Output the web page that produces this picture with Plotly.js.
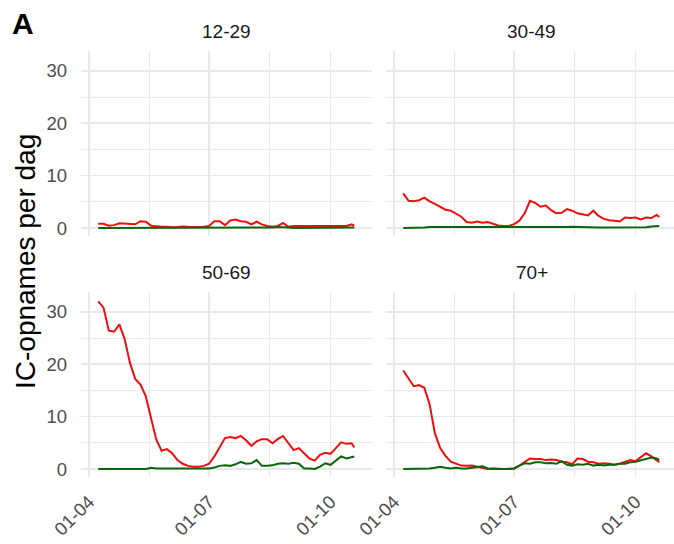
<!DOCTYPE html>
<html>
<head>
<meta charset="utf-8">
<script src="https://cdn.plot.ly/plotly-3.0.1.min.js"></script>
<style>html,body{margin:0;padding:0;background:#fff;}#chart{width:674px;height:544px;}</style>
</head>
<body>
<div id="chart"></div>
<script>
// ---- data ----
const dates = [
 "2020-04-08","2020-04-12","2020-04-16","2020-04-20","2020-04-24","2020-04-28",
 "2020-05-02","2020-05-06","2020-05-10","2020-05-14","2020-05-18","2020-05-22","2020-05-26","2020-05-30",
 "2020-06-03","2020-06-07","2020-06-11","2020-06-15","2020-06-19","2020-06-23","2020-06-27",
 "2020-07-01","2020-07-05","2020-07-09","2020-07-13","2020-07-17","2020-07-21","2020-07-25","2020-07-29",
 "2020-08-02","2020-08-06","2020-08-10","2020-08-14","2020-08-18","2020-08-22","2020-08-26","2020-08-30",
 "2020-09-03","2020-09-07","2020-09-11","2020-09-15","2020-09-19","2020-09-23","2020-09-27",
 "2020-10-01","2020-10-05","2020-10-09","2020-10-13","2020-10-17","2020-10-19"
];
const panels = ["12-29", "30-49", "50-69", "70+"];

const red_12_29 = [0.8,0.8,0.45,0.55,0.9,0.8,0.7,0.7,1.3,1.2,0.45,0.3,0.25,0.25,0.15,0.2,0.3,0.25,0.2,0.2,0.25,0.4,1.3,1.3,0.55,1.45,1.6,1.3,1.2,0.7,1.2,0.7,0.4,0.25,0.4,0.95,0.25,0.4,0.4,0.4,0.3,0.4,0.3,0.4,0.3,0.4,0.3,0.4,0.7,0.4];
const green_12_29 = [0,0,0,0,0,0,0,0,0,0,0.1,0.1,0.1,0.1,0.1,0,0,0,0,0,0,0,0,0,0,0,0,0,0,0,0,0,0,0.1,0.2,0.2,0.1,0,0,0,0,0,0,0,0,0,0,0,0.1,0.1];

const red_30_49 = [6.6,5.2,5.1,5.3,5.8,5.1,4.6,4.05,3.5,3.3,2.65,2.15,1.15,1.0,1.25,1.0,1.15,0.75,0.5,0.4,0.4,0.75,1.4,2.8,5.2,4.8,4.05,4.3,3.4,2.8,2.9,3.6,3.3,2.8,2.65,2.4,3.3,2.3,1.75,1.5,1.4,1.25,2.0,1.9,2.0,1.65,2.0,1.9,2.5,2.1];
const green_30_49 = [0,0,0,0,0.1,0.2,0.2,0.1,0.1,0.1,0.1,0.1,0.1,0.1,0.1,0.1,0.1,0.1,0.1,0.1,0.1,0.1,0.1,0.1,0.1,0.1,0.1,0.1,0.1,0.1,0.2,0.2,0.25,0.2,0.15,0.2,0.15,0.1,0.1,0.1,0.1,0.1,0.1,0.1,0.1,0.1,0.15,0.3,0.45,0.4];

const red_50_69 = [32.0,30.8,26.4,26.2,27.6,24.8,20.3,17.2,16.1,13.9,9.7,5.6,3.5,3.8,3.0,1.7,1.0,0.6,0.45,0.45,0.6,1.0,2.4,4.3,5.9,6.1,5.9,6.3,5.5,4.4,5.3,5.7,5.7,4.9,5.7,6.3,4.9,3.6,4.0,3.0,2.0,1.6,2.7,3.1,2.9,4.0,5.1,4.8,4.9,4.1];
const green_50_69 = [0,0,0,0,0,0,0,0,0,0,0.25,0.1,0.1,0.1,0.1,0.1,0.1,0.1,0.1,0.1,0.1,0.1,0.3,0.6,0.7,0.6,0.9,1.35,1.0,1.1,1.7,0.6,0.6,0.7,1.0,1.1,1.0,1.2,1.0,0.1,0.1,0,0.45,1.1,0.8,1.6,2.4,2.0,2.2,2.4];

const red_70 = [18.8,17.4,15.8,16.0,15.5,12.3,6.8,4.0,2.5,1.4,1.0,0.65,0.6,0.65,0.45,0.25,0,0.1,0,0,0,0.1,0.65,1.3,2.0,1.9,1.9,1.7,1.8,1.7,1.4,1.3,0.9,2.0,1.9,1.4,1.3,1.0,1.1,1.0,0.8,1.0,1.4,1.7,1.5,2.3,3.0,2.4,1.7,1.3];
const green_70 = [0,0,0.05,0.1,0.1,0.1,0.25,0.45,0.25,0.1,0.25,0.1,0.1,0.25,0.45,0.5,0.1,0,0,0,0,0.1,0.65,1.1,1.0,1.3,1.3,1.1,1.15,1.0,1.5,0.8,0.65,0.9,0.8,1.0,0.65,0.8,0.65,0.8,0.8,1.0,1.0,1.3,1.4,1.7,2.0,2.2,2.0,1.7];

const xTickVals = ["2020-04-01", "2020-07-01", "2020-10-01"];
const xTickText = ["01-04", "01-07", "01-10"];
const xMinorVals = ["2020-05-16 12:00", "2020-08-16"];
const yTickVals = [0, 10, 20, 30];
const yMinorVals = [5, 15, 25];
const yTitle = "IC-opnames per dag";
const panelLabel = "A";

// ---- layout geometry ----
const W = 674, H = 544;
const FONT = "Liberation Sans, Arial, Helvetica, sans-serif";
const pxPerDay = 1.32;
const apr1 = Date.UTC(2020, 3, 1);
function dstr(ms) { return new Date(ms).toISOString().replace('T', ' ').replace('Z', ''); }
const leftPx = [81, 372], rightPx = [386, 674];
const tickOffsetPx = 8; // Apr 1 sits 8 px right of panel left
const startMs = apr1 - tickOffsetPx / pxPerDay * 86400000;
function rangeFor(p) { return [dstr(startMs), dstr(startMs + (p[1] - p[0]) / pxPerDay * 86400000)]; }
const yRange = [-1.6, 33.8];
const topPx = [50.9, 236.4], botPx = [291.9, 477.4];
function xd(p) { return [p[0] / W, Math.min(1, p[1] / W)]; }
function yd(p) { return [1 - p[1] / H, 1 - p[0] / H]; }

const gridCol = "#e9e9e9";
function xaxis(px, anchor, labels) {
  return {
    type: "date", domain: xd(px), range: rangeFor(px), anchor: anchor,
    tickmode: "array", tickvals: xTickVals, ticktext: xTickText,
    showticklabels: labels, tickangle: -45, ticks: "", ticklabelstandoff: 9,
    tickfont: {family: FONT, size: 18.5, color: "#4d4d4d"},
    showgrid: true, gridcolor: gridCol, gridwidth: 1.5,
    minor: {tickmode: "array", tickvals: xMinorVals, showgrid: true, gridcolor: gridCol, gridwidth: 1.0, ticks: ""},
    zeroline: false, showline: false, fixedrange: true
  };
}
function yaxis(px, anchor, labels) {
  return {
    domain: yd(px), range: yRange, anchor: anchor,
    tickmode: "array", tickvals: yTickVals, ticktext: yTickVals.map(String),
    showticklabels: labels, ticks: "", ticklabelstandoff: 13,
    tickfont: {family: FONT, size: 18.5, color: "#4d4d4d"},
    showgrid: true, gridcolor: gridCol, gridwidth: 1.5,
    minor: {tickmode: "array", tickvals: yMinorVals, showgrid: true, gridcolor: gridCol, gridwidth: 1.0, ticks: ""},
    zeroline: false, showline: false, fixedrange: true
  };
}

const RED = "#f20d0d", GREEN = "#0b650b";
const series = [
  [red_12_29, green_12_29], [red_30_49, green_30_49],
  [red_50_69, green_50_69], [red_70, green_70]
];
const traces = [];
series.forEach((s, i) => {
  const xa = i === 0 ? "x" : "x" + (i + 1), ya = i === 0 ? "y" : "y" + (i + 1);
  traces.push({x: dates, y: s[0], xaxis: xa, yaxis: ya, type: "scatter", mode: "lines",
    line: {color: RED, width: 2}, showlegend: false, hoverinfo: "skip"});
  traces.push({x: dates, y: s[1], xaxis: xa, yaxis: ya, type: "scatter", mode: "lines",
    line: {color: GREEN, width: 2}, showlegend: false, hoverinfo: "skip"});
});

const stripY = [31.7, 272];
const panelPx = [[leftPx, 0], [rightPx, 0], [leftPx, 1], [rightPx, 1]];
const annotations = panels.map((name, i) => {
  const p = panelPx[i][0];
  const cx = (p[0] + (i % 2 === 1 ? 677 : p[1])) / 2;
  return {text: name, xref: "paper", yref: "paper", x: cx / W, y: 1 - stripY[panelPx[i][1]] / H,
    xanchor: "center", yanchor: "middle", showarrow: false,
    font: {family: FONT, size: 19, color: "#1a1a1a"}};
});
annotations.push({text: "<b>" + panelLabel + "</b>", xref: "paper", yref: "paper", x: 10 / W, y: 1 - 24 / H,
  xanchor: "left", yanchor: "middle", showarrow: false, font: {family: FONT, size: 30, color: "#000"}});
annotations.push({text: yTitle, xref: "paper", yref: "paper", x: 25 / W, y: 1 - 262 / H, textangle: -90,
  xanchor: "center", yanchor: "middle", showarrow: false, font: {family: FONT, size: 28, color: "#000"}});

const layout = {
  width: W, height: H, margin: {l: 0, r: 0, t: 0, b: 0},
  paper_bgcolor: "#fff", plot_bgcolor: "rgba(0,0,0,0)", showlegend: false, hovermode: false,
  xaxis: xaxis(leftPx, "y", false), yaxis: yaxis(topPx, "x", true),
  xaxis2: xaxis(rightPx, "y2", false), yaxis2: yaxis(topPx, "x2", false),
  xaxis3: xaxis(leftPx, "y3", true), yaxis3: yaxis(botPx, "x3", true),
  xaxis4: xaxis(rightPx, "y4", true), yaxis4: yaxis(botPx, "x4", false),
  annotations: annotations
};
Plotly.newPlot("chart", traces, layout, {staticPlot: true, displayModeBar: false});
</script>
</body>
</html>
